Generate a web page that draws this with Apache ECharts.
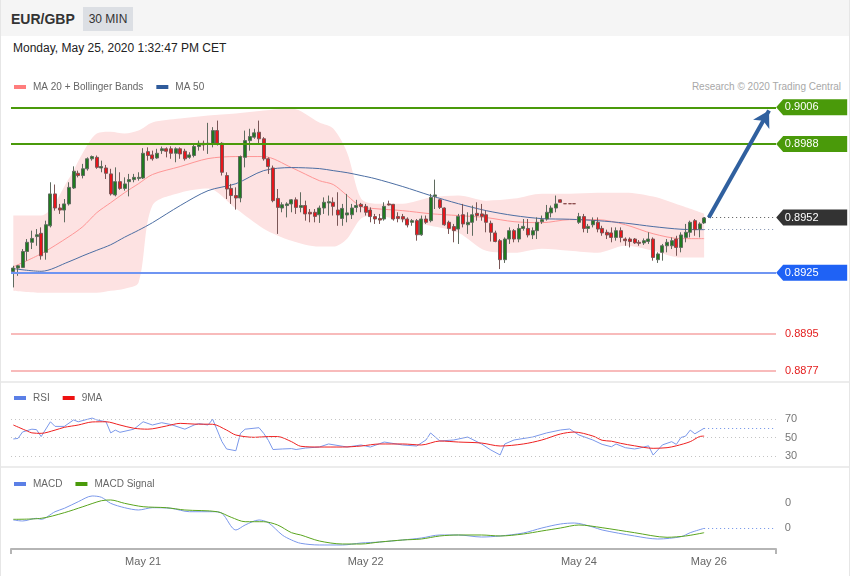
<!DOCTYPE html>
<html><head><meta charset="utf-8">
<script src="https://cdn.jsdelivr.net/npm/echarts@6/dist/echarts.min.js"></script>
<style>
body{margin:0;background:#fff;font-family:'Liberation Sans',Arial,sans-serif;}
#wrap{position:relative;width:850px;height:576px;overflow:hidden;background:#fff;}
.abs{position:absolute;}
</style></head><body>
<div id="wrap">
<div class="abs" style="left:0;top:0;width:850px;height:36px;background:#f5f5f5;"></div>
<div class="abs" style="left:11px;top:10px;font-size:14px;font-weight:bold;color:#333;line-height:18px;">EUR/GBP</div>
<div class="abs" style="left:83px;top:7px;width:50px;height:24px;background:#dcdfe4;color:#333;font-size:12px;line-height:24px;text-align:center;">30 MIN</div>
<div class="abs" style="left:13px;top:41px;font-size:12px;color:#222;line-height:14px;">Monday, May 25, 2020 1:32:47 PM CET</div>
<div class="abs" style="right:9px;top:81px;font-size:10px;color:#a8a8a8;line-height:12px;">Research © 2020 Trading Central</div>
<div class="abs" style="left:0;top:381px;width:850px;height:2px;background:#ececec;"></div>
<div class="abs" style="left:0;top:466px;width:850px;height:2px;background:#ececec;"></div>
<div class="abs" style="left:0;top:0;width:1px;height:576px;background:#e6e6e6;"></div>
<div class="abs" style="right:0;top:0;width:1px;height:576px;background:#e6e6e6;"></div>
<div id="chart" class="abs" style="left:0;top:0;width:850px;height:576px;"></div>
</div>
<script>
// ---- data ----
const categoryCount = 165;
const tickIdx = [28, 76, 122, 150];
const tickText = ['May 21', 'May 22', 'May 24', 'May 26'];

const open = [
0.89256,0.89273,0.89276,0.89354,0.89399,0.89427,0.89443,0.89350,0.89480,0.89636,
0.89567,0.89557,0.89587,0.89665,0.89737,0.89726,0.89759,0.89808,0.89815,0.89763,
0.89763,0.89734,0.89631,0.89696,0.89663,0.89696,0.89706,0.89712,0.89714,0.89843,
0.89827,0.89812,0.89848,0.89857,0.89857,0.89835,0.89857,0.89845,0.89815,0.89824,
0.89868,0.89884,0.89878,0.89881,0.89946,0.89884,0.89726,0.89663,0.89628,0.89616,
0.89815,0.89897,0.89914,0.89938,0.89906,0.89808,0.89763,0.89614,0.89567,0.89579,
0.89587,0.89607,0.89570,0.89579,0.89546,0.89546,0.89534,0.89567,0.89592,0.89595,
0.89557,0.89516,0.89533,0.89534,0.89570,0.89585,0.89575,0.89557,0.89525,0.89516,
0.89513,0.89587,0.89585,0.89525,0.89525,0.89513,0.89497,0.89505,0.89436,0.89513,
0.89505,0.89624,0.89607,0.89567,0.89497,0.89476,0.89464,0.89534,0.89485,0.89497,
0.89541,0.89538,0.89534,0.89492,0.89445,0.89407,0.89314,0.89415,0.89456,0.89415,
0.89467,0.89467,0.89435,0.89456,0.89500,0.89513,0.89543,0.89567,0.89607,0.89588,
0.89588,0.89588,0.89497,0.89525,0.89467,0.89485,0.89497,0.89467,0.89448,0.89445,
0.89423,0.89456,0.89415,0.89415,0.89415,0.89399,0.89396,0.89403,0.89415,0.89314,
0.89350,0.89382,0.89382,0.89415,0.89374,0.89423,0.89448,0.89505,0.89464,0.89494];
const close = [
0.89273,0.89284,0.89354,0.89399,0.89418,0.89436,0.89333,0.89485,0.89636,0.89567,
0.89557,0.89587,0.89668,0.89747,0.89726,0.89759,0.89808,0.89819,0.89766,0.89770,
0.89737,0.89636,0.89696,0.89663,0.89685,0.89706,0.89717,0.89717,0.89835,0.89824,
0.89808,0.89835,0.89857,0.89845,0.89835,0.89857,0.89832,0.89808,0.89827,0.89868,
0.89884,0.89876,0.89884,0.89946,0.89884,0.89742,0.89660,0.89628,0.89616,0.89819,
0.89897,0.89917,0.89935,0.89906,0.89808,0.89770,0.89603,0.89570,0.89583,0.89587,
0.89607,0.89570,0.89579,0.89538,0.89538,0.89526,0.89567,0.89595,0.89598,0.89575,
0.89533,0.89565,0.89543,0.89567,0.89579,0.89574,0.89546,0.89525,0.89513,0.89508,
0.89575,0.89582,0.89513,0.89516,0.89513,0.89484,0.89505,0.89436,0.89513,0.89497,
0.89619,0.89631,0.89570,0.89485,0.89467,0.89456,0.89526,0.89489,0.89497,0.89534,
0.89530,0.89526,0.89497,0.89448,0.89403,0.89314,0.89415,0.89456,0.89415,0.89467,
0.89477,0.89435,0.89456,0.89497,0.89510,0.89546,0.89567,0.89587,0.89595,0.89588,
0.89588,0.89588,0.89525,0.89467,0.89477,0.89505,0.89464,0.89445,0.89435,0.89423,
0.89456,0.89423,0.89407,0.89403,0.89396,0.89394,0.89407,0.89415,0.89325,0.89342,
0.89382,0.89399,0.89407,0.89374,0.89435,0.89448,0.89497,0.89461,0.89489,0.89518];
const low = [
0.89178,0.89235,0.89273,0.89309,0.89366,0.89382,0.89314,0.89314,0.89472,0.89554,
0.89538,0.89497,0.89579,0.89660,0.89717,0.89712,0.89750,0.89799,0.89759,0.89742,
0.89709,0.89628,0.89624,0.89656,0.89652,0.89624,0.89693,0.89701,0.89709,0.89799,
0.89799,0.89808,0.89832,0.89815,0.89808,0.89791,0.89808,0.89799,0.89808,0.89815,
0.89848,0.89848,0.89832,0.89864,0.89873,0.89726,0.89611,0.89587,0.89559,0.89595,
0.89766,0.89848,0.89906,0.89881,0.89799,0.89734,0.89595,0.89440,0.89546,0.89521,
0.89546,0.89538,0.89546,0.89505,0.89497,0.89497,0.89494,0.89538,0.89530,0.89530,
0.89480,0.89480,0.89497,0.89513,0.89546,0.89546,0.89530,0.89497,0.89489,0.89489,
0.89505,0.89579,0.89505,0.89497,0.89497,0.89472,0.89480,0.89407,0.89431,0.89489,
0.89497,0.89562,0.89562,0.89480,0.89440,0.89399,0.89391,0.89472,0.89440,0.89431,
0.89505,0.89505,0.89448,0.89403,0.89399,0.89268,0.89298,0.89391,0.89399,0.89399,
0.89456,0.89423,0.89415,0.89415,0.89489,0.89505,0.89521,0.89546,0.89594,0.89588,
0.89588,0.89588,0.89489,0.89448,0.89445,0.89472,0.89448,0.89431,0.89415,0.89399,
0.89407,0.89399,0.89382,0.89374,0.89391,0.89382,0.89386,0.89391,0.89309,0.89298,
0.89309,0.89350,0.89366,0.89333,0.89350,0.89399,0.89423,0.89431,0.89423,0.89489];
const high = [
0.89284,0.89288,0.89366,0.89415,0.89456,0.89464,0.89472,0.89505,0.89693,0.89682,
0.89587,0.89611,0.89693,0.89771,0.89750,0.89783,0.89815,0.89824,0.89824,0.89799,
0.89778,0.89759,0.89766,0.89742,0.89717,0.89734,0.89734,0.89742,0.89860,0.89864,
0.89848,0.89857,0.89868,0.89864,0.89869,0.89864,0.89864,0.89857,0.89840,0.89876,
0.89897,0.89897,0.89984,0.89963,0.89995,0.89889,0.89742,0.89685,0.89668,0.89824,
0.89946,0.89955,0.89955,0.89995,0.89914,0.89815,0.89775,0.89660,0.89595,0.89595,
0.89611,0.89619,0.89644,0.89603,0.89562,0.89562,0.89579,0.89619,0.89628,0.89619,
0.89644,0.89587,0.89636,0.89587,0.89607,0.89592,0.89587,0.89570,0.89538,0.89538,
0.89595,0.89603,0.89587,0.89546,0.89538,0.89521,0.89513,0.89513,0.89530,0.89530,
0.89636,0.89706,0.89611,0.89570,0.89505,0.89489,0.89538,0.89587,0.89546,0.89579,
0.89595,0.89587,0.89554,0.89505,0.89456,0.89415,0.89423,0.89472,0.89464,0.89489,
0.89513,0.89513,0.89472,0.89521,0.89530,0.89582,0.89579,0.89628,0.89609,0.89588,
0.89588,0.89588,0.89543,0.89538,0.89489,0.89521,0.89521,0.89480,0.89461,0.89472,
0.89472,0.89472,0.89423,0.89423,0.89420,0.89410,0.89418,0.89448,0.89423,0.89350,
0.89391,0.89415,0.89423,0.89431,0.89448,0.89489,0.89505,0.89513,0.89497,0.89521];

const bandIdx = [0,6,12,15,18,21,24,27,30,36,42,48,54,60,66,69,72,75,78,84,90,96,102,108,114,120,126,132,138,144,149];
const bbUpper = [0.89530,0.89530,0.89711,0.89838,0.89932,0.89941,0.89932,0.89946,0.89986,0.90005,0.90020,0.90030,0.90044,0.90054,0.89986,0.89956,0.89838,0.89613,0.89588,0.89588,0.89618,0.89628,0.89603,0.89613,0.89637,0.89637,0.89642,0.89642,0.89623,0.89579,0.89539];
const bbLower = [0.89162,0.89152,0.89152,0.89152,0.89152,0.89162,0.89172,0.89201,0.89579,0.89642,0.89662,0.89564,0.89466,0.89407,0.89378,0.89378,0.89417,0.89515,0.89530,0.89505,0.89480,0.89446,0.89358,0.89348,0.89368,0.89358,0.89348,0.89382,0.89358,0.89324,0.89324];
const ma20 = [0.89279,0.89343,0.89427,0.89476,0.89544,0.89593,0.89642,0.89686,0.89731,0.89770,0.89809,0.89819,0.89819,0.89765,0.89701,0.89682,0.89628,0.89574,0.89564,0.89554,0.89539,0.89530,0.89520,0.89500,0.89495,0.89510,0.89510,0.89485,0.89441,0.89417,0.89417];
const ma50 = [0.89270,0.89257,0.89304,0.89333,0.89360,0.89387,0.89424,0.89458,0.89495,0.89579,0.89652,0.89686,0.89750,0.89765,0.89760,0.89750,0.89740,0.89726,0.89711,0.89672,0.89628,0.89588,0.89554,0.89530,0.89515,0.89512,0.89505,0.89493,0.89476,0.89463,0.89461];

const rsiIdx = [0,1,2,4,5,6,8,9,11,13,14,17,18,20,21,22,23,26,28,30,32,34,37,39,40,42,43,45,46,48,49,50,53,54,55,56,58,60,61,63,66,68,72,75,77,80,84,87,89,90,92,95,98,101,103,105,106,108,112,115,118,120,122,125,127,129,130,132,134,135,137,138,140,142,143,144,145,146,147,149];
const rsiVal = [48.4,49,56,59,58.5,51,67,62,62,69,67,71,69,67,55,58,55.6,59,67,63.5,66,64,59,63.5,65,63.5,69.7,45.5,37.6,35.7,54.5,59,60.6,54.5,47,37,37.6,38,37,38.6,39.7,43,39.7,41.9,39.7,45.1,41.9,40.8,47.3,54.9,46.2,47.3,50.5,43,36.5,31.1,43,47.3,50.5,54.9,58.1,59.2,52.7,47.3,42.6,40,43,39,37.6,38.5,41,31,42,45.5,42.5,50,51.5,58,54,60];
const rsiMaIdx = [0,3,4,6,9,11,14,17,20,23,26,29,33,36,39,43,46,48,52,55,57,60,62,66,71,75,79,84,88,92,96,101,105,110,114,118,121,125,127,129,131,134,138,141,143,146,148,149];
const rsiMaVal = [63.5,57,55,54.5,58,61,63.5,66.8,67,63.5,60,59,62.4,65.3,64.5,64.3,58,52.7,50.2,51,51,45.5,40.5,39.7,39.7,40.8,43,43,41.9,46.2,45.1,44,40.8,43,47.3,53.8,55.9,51.6,47,46,43.7,41,38.3,39,41,45.5,51,51.5];
const rsiLevels = [30, 50, 70];

const macdIdx = [0,2,5,6,9,11,14,17,19,21,24,27,30,34,38,43,45,48,50,53,55,58,60,62,66,71,75,79,84,88,92,96,101,105,110,114,118,121,125,127,134,139,144,146,149];
const macdVal = [0.000173,0.000154,0.000205,0.000186,0.000332,0.000397,0.000524,0.000634,0.000609,0.000493,0.000409,0.000365,0.000409,0.000397,0.000332,0.000332,0.000301,-0.000019,0.000077,0.000173,0.000121,-0.000115,-0.000211,-0.000275,-0.000307,-0.000307,-0.000269,-0.000250,-0.000211,-0.000173,-0.000115,-0.000115,-0.000154,-0.000134,-0.000077,0.000019,0.000096,0.000115,0.000038,-0.000019,-0.000134,-0.000192,-0.000148,-0.000071,0.000013];
const sigIdx = [0,6,11,15,19,21,24,28,33,37,44,47,50,54,57,60,62,66,71,75,79,84,88,92,96,101,105,110,114,118,122,127,134,141,145,149];
const sigVal = [0.000186,0.000205,0.000313,0.000428,0.000543,0.000557,0.000493,0.000428,0.000409,0.000365,0.000332,0.000225,0.000140,0.000140,0.000077,-0.000071,-0.000115,-0.000230,-0.000288,-0.000288,-0.000250,-0.000211,-0.000192,-0.000134,-0.000115,-0.000115,-0.000134,-0.000096,-0.000038,0.000019,0.000077,0.000025,-0.000071,-0.000159,-0.000134,-0.000071];
const macdTick = [0.0005];

const targetLevels = [0.9006, 0.8988];
const currentPrice = 0.8952;
const supportLevel = 0.8925;
const lowerLevels = [0.8895, 0.8877];
const arrowEnd = 0.90045;

// ---- build ----
const cats = [];
for (let i = 0; i < categoryCount; i++) cats.push('c' + i);
const lastIdx = open.length - 1;
const tagIdx = categoryCount - 1;
const candleData = open.map((o, i) => [o, close[i], low[i], high[i]]);
const pairs = (idx, vals) => idx.map((k, i) => [k, vals[i]]);
const bandDiff = bandIdx.map((k, i) => [k, +(bbUpper[i] - bbLower[i]).toFixed(6)]);
const rsiLast = rsiVal[rsiVal.length - 1];
const macdLast = macdVal[macdVal.length - 1];
const ma50Last = ma50[ma50.length - 1];

const FONT = "'Liberation Sans', Arial, sans-serif";
const GREEN = '#4a9a0a';
const dotted = [1, 3];

function tag(v, color) {
  return { coord: [tagIdx, v], value: v.toFixed(4), itemStyle: { color: color } };
}

const chart = echarts.init(document.getElementById('chart'), null, { renderer: 'canvas' });
const xBase = { type: 'category', data: cats, boundaryGap: true };
const legendBase = { icon: 'rect', itemWidth: 12, itemHeight: 4, itemGap: 13, selectedMode: false,
  textStyle: { fontSize: 10, color: '#666', padding: [0, 0, 0, 2] } };
const option = {
  animation: false,
  backgroundColor: 'transparent',
  textStyle: { fontFamily: FONT },
  legend: [
    Object.assign({ left: 9, top: 77, data: ['MA 20 + Bollinger Bands', 'MA 50'] }, legendBase),
    Object.assign({ left: 9, top: 388, data: ['RSI', '9MA'] }, legendBase),
    Object.assign({ left: 9, top: 474, data: ['MACD', 'MACD Signal'] }, legendBase)
  ],
  grid: [
    { left: 11, width: 765, top: 91, height: 292 },
    { left: 11, width: 765, top: 409.75, height: 55.5 },
    { left: 11, width: 765, top: 469, height: 80 }
  ],
  xAxis: [
    Object.assign({ gridIndex: 0, show: false, axisLine: { onZero: false } }, xBase),
    Object.assign({ gridIndex: 1, show: false, axisLine: { onZero: false } }, xBase),
    Object.assign({ gridIndex: 2,
      axisLine: { onZero: false, lineStyle: { color: '#b5b5b5', width: 2 } },
      axisTick: { show: true, length: 5, interval: (i) => i === 0 || i >= categoryCount, lineStyle: { color: '#b5b5b5', width: 2 } },
      axisLabel: { color: '#666', fontSize: 11, margin: 7,
        interval: (i) => tickIdx.indexOf(i) >= 0,
        formatter: (v, i) => { const j = tickIdx.indexOf(i); return j >= 0 ? tickText[j] : ''; } } }, xBase)
  ],
  yAxis: [
    { gridIndex: 0, type: 'value', position: 'right', min: 0.8871, max: 0.9014,
      axisLabel: { show: false }, axisLine: { show: false }, axisTick: { show: false }, splitLine: { show: false } },
    { gridIndex: 1, type: 'value', position: 'right', min: 20, max: 80,
      axisLabel: { customValues: rsiLevels, color: '#777', fontSize: 11, margin: 9 },
      axisLine: { show: false }, axisTick: { show: false }, splitLine: { show: false } },
    { gridIndex: 2, type: 'value', position: 'right', min: -0.000384, max: 0.001152,
      axisLabel: { customValues: macdTick, color: '#777', fontSize: 11, margin: 9, formatter: (v) => v.toFixed(0) },
      axisLine: { show: false }, axisTick: { show: false }, splitLine: { show: false } }
  ],
  series: [
    { type: 'line', name: 'bbLow', xAxisIndex: 0, yAxisIndex: 0, stack: 'bb', data: pairs(bandIdx, bbLower),
      smooth: 0.3, symbol: 'none', silent: true, z: 1, lineStyle: { opacity: 0 } },
    { type: 'line', name: 'bbFill', xAxisIndex: 0, yAxisIndex: 0, stack: 'bb', data: bandDiff,
      smooth: 0.3, symbol: 'none', silent: true, z: 1, lineStyle: { opacity: 0 },
      areaStyle: { color: '#fde2e2', opacity: 1 } },
    { type: 'line', name: 'MA 20 + Bollinger Bands', xAxisIndex: 0, yAxisIndex: 0, data: pairs(bandIdx, ma20),
      smooth: 0.3, symbol: 'none', z: 2, itemStyle: { color: '#ff7d7d' }, lineStyle: { color: '#ff9696', width: 1 } },
    { type: 'line', name: 'MA 50', xAxisIndex: 0, yAxisIndex: 0, data: pairs(bandIdx, ma50),
      smooth: 0.3, symbol: 'none', z: 2, itemStyle: { color: '#2f5b9b' }, lineStyle: { color: '#4c6ea3', width: 1 } },
    { type: 'candlestick', name: 'EUR/GBP', xAxisIndex: 0, yAxisIndex: 0, data: candleData, z: 3,
      barWidth: 3.5,
      itemStyle: { color: '#1f7a1f', color0: '#e8151b', borderColor: '#5f6b5f', borderColor0: '#7a5656',
        borderColorDoji: '#8a4a4a', borderWidth: 1 },
      markLine: {
        silent: true, animation: false, precision: 6, symbol: ['none', 'none'], label: { show: false },
        data: [
          { yAxis: targetLevels[0], lineStyle: { color: GREEN, width: 2, type: 'solid' } },
          { yAxis: targetLevels[1], lineStyle: { color: GREEN, width: 2, type: 'solid' } },
          { yAxis: supportLevel, lineStyle: { color: '#6f95f2', width: 2, type: 'solid' } },
          { yAxis: lowerLevels[0], lineStyle: { color: '#f6a5a5', width: 1.5, type: 'solid' },
            label: { show: true, position: 'end', formatter: lowerLevels[0].toFixed(4), color: '#e41e1e', fontSize: 11, distance: 9 } },
          { yAxis: lowerLevels[1], lineStyle: { color: '#f6a5a5', width: 1.5, type: 'solid' },
            label: { show: true, position: 'end', formatter: lowerLevels[1].toFixed(4), color: '#e41e1e', fontSize: 11, distance: 9 } },
          [{ coord: [lastIdx, currentPrice], lineStyle: { color: '#555', width: 1, type: dotted } }, { coord: [tagIdx, currentPrice] }],
          [{ coord: [lastIdx, ma50Last], lineStyle: { color: '#7f8fae', width: 1, type: dotted } }, { coord: [tagIdx, ma50Last] }],
          [{ coord: [lastIdx + 1, currentPrice], symbol: 'none', lineStyle: { color: '#30609f', width: 4, type: 'solid' } },
           { coord: [tagIdx - 1, arrowEnd], symbol: 'arrow', symbolSize: [14, 16] }]
        ]
      },
      markPoint: {
        silent: true, animation: false,
        symbol: 'path://M0,8L7,0L71,0L71,16L7,16Z', symbolSize: [71, 16], symbolKeepAspect: false, symbolOffset: [38, 0],
        label: { show: true, color: '#fff', fontSize: 11, offset: [-10, 0], formatter: (p) => p.value },
        data: [tag(targetLevels[0], GREEN), tag(targetLevels[1], GREEN), tag(currentPrice, '#333333'), tag(supportLevel, '#1f62f5')]
      }
    },
    { type: 'line', name: 'RSI', xAxisIndex: 1, yAxisIndex: 1, data: pairs(rsiIdx, rsiVal), symbol: 'none', z: 3,
      itemStyle: { color: '#5b7fe6' }, lineStyle: { color: '#7b98ea', width: 1 },
      markLine: { silent: true, animation: false, precision: 4, symbol: ['none', 'none'], label: { show: false },
        data: [
          { yAxis: rsiLevels[0], lineStyle: { color: '#c4c4c4', width: 1, type: dotted } },
          { yAxis: rsiLevels[1], lineStyle: { color: '#c4c4c4', width: 1, type: dotted } },
          { yAxis: rsiLevels[2], lineStyle: { color: '#c4c4c4', width: 1, type: dotted } },
          [{ coord: [lastIdx, rsiLast], lineStyle: { color: '#6a8ee8', width: 1, type: dotted } }, { coord: [tagIdx, rsiLast] }]
        ] } },
    { type: 'line', name: '9MA', xAxisIndex: 1, yAxisIndex: 1, data: pairs(rsiMaIdx, rsiMaVal), smooth: 0.3, symbol: 'none', z: 4,
      itemStyle: { color: '#ee1111' }, lineStyle: { color: '#ee2020', width: 1 } },
    { type: 'line', name: 'MACD', xAxisIndex: 2, yAxisIndex: 2, data: pairs(macdIdx, macdVal), smooth: 0.3, symbol: 'none', z: 3,
      itemStyle: { color: '#5b7fe6' }, lineStyle: { color: '#7b98ea', width: 1 },
      markLine: { silent: true, animation: false, precision: 8, symbol: ['none', 'none'],
        data: [[{ coord: [lastIdx, macdLast], lineStyle: { color: '#6a8ee8', width: 1, type: dotted },
                  label: { show: true, position: 'end', formatter: macdLast.toFixed(0).replace('-', ''), color: '#777', fontSize: 11, distance: 11 } },
                { coord: [tagIdx, macdLast] }]] } },
    { type: 'line', name: 'MACD Signal', xAxisIndex: 2, yAxisIndex: 2, data: pairs(sigIdx, sigVal), smooth: 0.3, symbol: 'none', z: 4,
      itemStyle: { color: GREEN }, lineStyle: { color: '#5aa51e', width: 1 } }
  ]
};
chart.setOption(option);
</script>
</body></html>
